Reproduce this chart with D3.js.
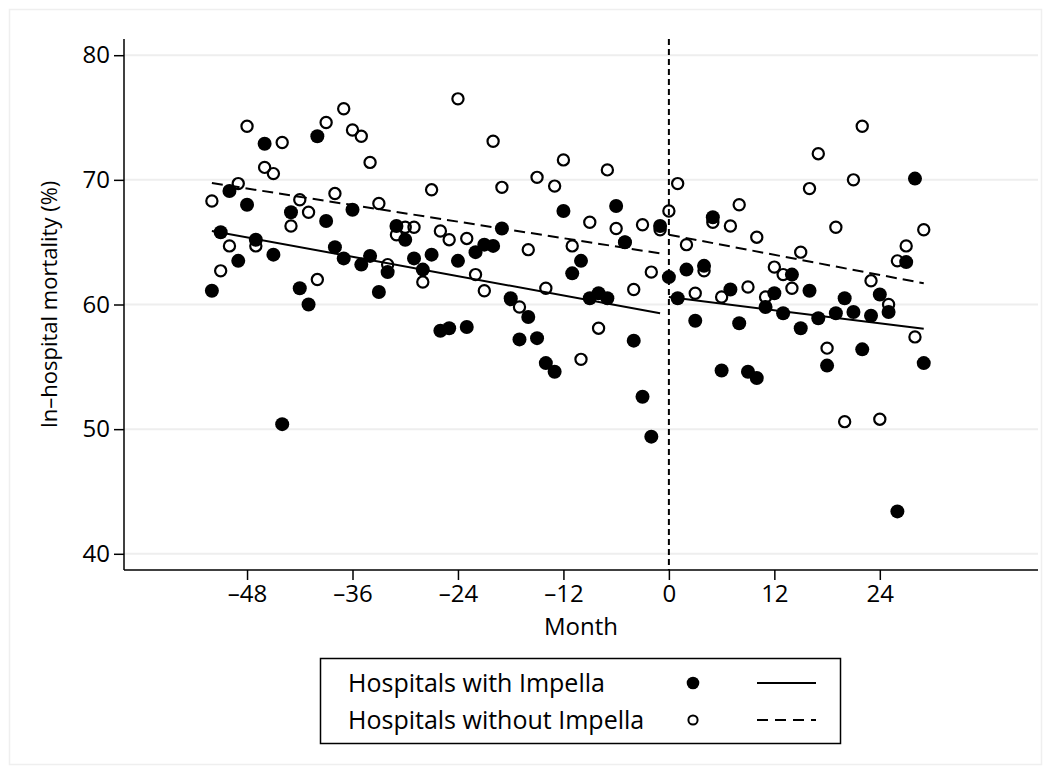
<!DOCTYPE html>
<html>
<head>
<meta charset="utf-8">
<script src="https://cdn.jsdelivr.net/npm/d3@7"></script>
<style>
  body { margin: 0; background: #fff; }
  svg { display: block; font-family: "Open Sans", "DejaVu Sans", sans-serif; }
</style>
</head>
<body>
<div id="chart"></div>
<script>
var width = 1051,
    height = 774;

// Month relative to Impella introduction, one observation per month
var months = d3.range(-52, 30);

// In-hospital mortality (%) (-52 .. 29)
var withImpella = [
  61.1, 65.8, 69.1, 63.5, 68.0, 65.2, 72.9, 64.0, 50.4, 67.4,
  61.3, 60.0, 73.5, 66.7, 64.6, 63.7, 67.6, 63.2, 63.9, 61.0,
  62.6, 66.3, 65.2, 63.7, 62.8, 64.0, 57.9, 58.1, 63.5, 58.2,
  64.2, 64.8, 64.7, 66.1, 60.5, 57.2, 59.0, 57.3, 55.3, 54.6,
  67.5, 62.5, 63.5, 60.5, 60.9, 60.5, 67.9, 65.0, 57.1, 52.6,
  49.4, 66.3,
  62.2, 60.5, 62.8, 58.7, 63.1, 67.0, 54.7, 61.2, 58.5, 54.6,
  54.1, 59.8, 60.9, 59.3, 62.4, 58.1, 61.1, 58.9, 55.1, 59.3,
  60.5, 59.4, 56.4, 59.1, 60.8, 59.4, 43.4, 63.4, 70.1, 55.3
];
var withoutImpella = [
  68.3, 62.7, 64.7, 69.7, 74.3, 64.7, 71.0, 70.5, 73.0, 66.3,
  68.4, 67.4, 62.0, 74.6, 68.9, 75.7, 74.0, 73.5, 71.4, 68.1,
  63.2, 65.6, 66.2, 66.2, 61.8, 69.2, 65.9, 65.2, 76.5, 65.3,
  62.4, 61.1, 73.1, 69.4, 60.4, 59.8, 64.4, 70.2, 61.3, 69.5,
  71.6, 64.7, 55.6, 66.6, 58.1, 70.8, 66.1, 65.0, 61.2, 66.4,
  62.6, 66.0,
  67.5, 69.7, 64.8, 60.9, 62.7, 66.6, 60.6, 66.3, 68.0, 61.4,
  65.4, 60.6, 63.0, 62.4, 61.3, 64.2, 69.3, 72.1, 56.5, 66.2,
  50.6, 70.0, 74.3, 61.9, 50.8, 60.0, 63.5, 64.7, 57.4, 66.0
];

// Linear fits before / after month 0 (end points)
var fitWith = [[[-52, 65.9], [-1, 59.3]], [[0, 60.6], [29, 58.05]]];
var fitWithout = [[[-52, 69.75], [-1, 64.1]], [[0, 65.6], [29, 61.7]]];

var xTicks = [-48, -36, -24, -12, 0, 12, 24];
var yTicks = [40, 50, 60, 70, 80];
var legendLabels = ["Hospitals with Impella", "Hospitals without Impella"];

var plot = {left: 124, right: 1038, top: 39, bottom: 570};

var x = d3.scaleLinear()
    .domain([-62, 42])
    .range([plot.left, plot.right]);

var y = d3.scaleLinear()
    .domain([38.7, 81.3])
    .range([plot.bottom, plot.top]);

var fmtTick = function(d) { return d < 0 ? "\u2013" + Math.abs(d) : "" + d; };

var svg = d3.select("#chart").append("svg")
    .attr("width", width)
    .attr("height", height);

svg.append("rect")
    .attr("width", width)
    .attr("height", height)
    .attr("fill", "#fff");

// faint outer graph-region border
svg.append("rect")
    .attr("x", 9.5).attr("y", 9.5)
    .attr("width", width - 19).attr("height", height - 19)
    .attr("fill", "none")
    .attr("stroke", "#efefef")
    .attr("stroke-width", 1.5);

// horizontal grid
svg.append("g")
  .selectAll("line")
  .data(yTicks)
  .enter().append("line")
    .attr("x1", plot.left).attr("x2", plot.right)
    .attr("y1", function(d) { return y(d); })
    .attr("y2", function(d) { return y(d); })
    .attr("stroke", "#eeeeee")
    .attr("stroke-width", 2);

// axes
var yAxis = svg.append("g")
    .attr("transform", "translate(" + plot.left + ",0)")
    .call(d3.axisLeft(y).tickValues(yTicks).tickSize(10).tickPadding(4).tickFormat(fmtTick));

var xAxis = svg.append("g")
    .attr("transform", "translate(0," + plot.bottom + ")")
    .call(d3.axisBottom(x).tickValues(xTicks).tickSize(10).tickPadding(5).tickFormat(fmtTick));

[yAxis, xAxis].forEach(function(a) {
  a.select(".domain").remove();
  a.selectAll(".tick line").attr("stroke", "#000").attr("stroke-width", 1.5);
  a.selectAll(".tick text")
      .attr("fill", "#000")
      .style("font-size", "24px")
      .style("font-family", "'Open Sans', 'DejaVu Sans', sans-serif");
});

svg.append("line")
    .attr("x1", plot.left).attr("x2", plot.left)
    .attr("y1", plot.top).attr("y2", plot.bottom)
    .attr("stroke", "#000").attr("stroke-width", 1.5);

svg.append("line")
    .attr("x1", plot.left).attr("x2", plot.right)
    .attr("y1", plot.bottom).attr("y2", plot.bottom)
    .attr("stroke", "#000").attr("stroke-width", 1.5);

// axis titles
svg.append("text")
    .attr("x", (plot.left + plot.right) / 2)
    .attr("y", 635)
    .attr("text-anchor", "middle")
    .style("font-size", "24px")
    .text("Month");

svg.append("text")
    .attr("transform", "translate(57," + y(60) + ") rotate(-90)")
    .attr("text-anchor", "middle")
    .style("font-size", "22px")
    .text("In\u2013hospital mortality (%)");

// reference line at month 0
svg.append("line")
    .attr("x1", x(0)).attr("x2", x(0))
    .attr("y1", plot.top).attr("y2", plot.bottom)
    .attr("stroke", "#000")
    .attr("stroke-width", 2)
    .attr("stroke-dasharray", "6,4");

// fitted lines
var line = d3.line()
    .x(function(d) { return x(d[0]); })
    .y(function(d) { return y(d[1]); });

svg.append("g")
  .selectAll("path")
  .data(fitWith)
  .enter().append("path")
    .attr("d", line)
    .attr("fill", "none")
    .attr("stroke", "#000")
    .attr("stroke-width", 2);

svg.append("g")
  .selectAll("path")
  .data(fitWithout)
  .enter().append("path")
    .attr("d", line)
    .attr("fill", "none")
    .attr("stroke", "#000")
    .attr("stroke-width", 2)
    .attr("stroke-dasharray", "11,6");

// scatter points
svg.append("g")
  .selectAll("circle")
  .data(months)
  .enter().append("circle")
    .attr("cx", function(d) { return x(d); })
    .attr("cy", function(d, i) { return y(withImpella[i]); })
    .attr("r", 7)
    .attr("fill", "#000");

svg.append("g")
  .selectAll("circle")
  .data(months)
  .enter().append("circle")
    .attr("cx", function(d) { return x(d); })
    .attr("cy", function(d, i) { return y(withoutImpella[i]); })
    .attr("r", 5.6)
    .attr("fill", "none")
    .attr("stroke", "#000")
    .attr("stroke-width", 2.2);

// legend
var legend = svg.append("g");

legend.append("rect")
    .attr("x", 320.5).attr("y", 658.5)
    .attr("width", 520).attr("height", 85)
    .attr("fill", "#fff")
    .attr("stroke", "#000")
    .attr("stroke-width", 1.5);

var rows = legend.selectAll("g.row")
    .data(legendLabels)
  .enter().append("g")
    .attr("class", "row")
    .attr("transform", function(d, i) { return "translate(0," + (683 + i * 37) + ")"; });

rows.append("text")
    .attr("x", 348)
    .attr("dy", "0.35em")
    .style("font-size", "25px")
    .text(function(d) { return d; });

rows.append("circle")
    .attr("cx", 693)
    .attr("r", function(d, i) { return i === 0 ? 6.3 : 4.6; })
    .attr("fill", function(d, i) { return i === 0 ? "#000" : "none"; })
    .attr("stroke", "#000")
    .attr("stroke-width", function(d, i) { return i === 0 ? 0 : 2; });

rows.append("line")
    .attr("x1", 757).attr("x2", 816)
    .attr("stroke", "#000")
    .attr("stroke-width", 2)
    .attr("stroke-dasharray", function(d, i) { return i === 0 ? null : "11,7"; });
</script>
</body>
</html>
